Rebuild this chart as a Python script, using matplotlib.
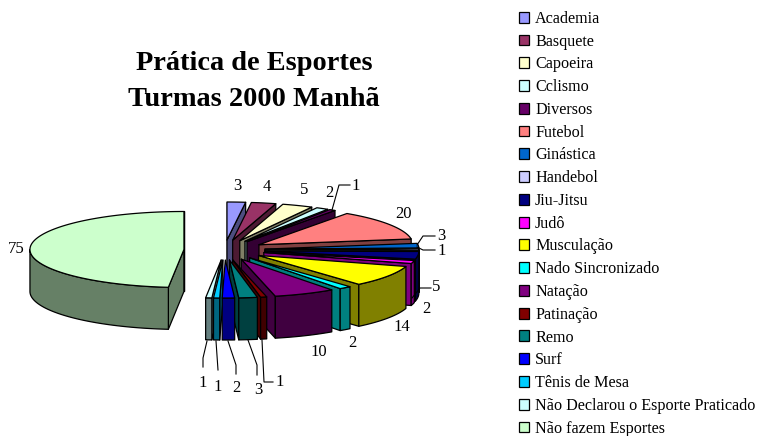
import numpy as np
import matplotlib
matplotlib.use("Agg")
import matplotlib.pyplot as plt
from matplotlib.patches import Polygon, Patch

categories = ["Academia", "Basquete", "Capoeira", "Cclismo", "Diversos", "Futebol",
              "Ginástica", "Handebol", "Jiu-Jitsu", "Judô", "Musculação",
              "Nado Sincronizado", "Natação", "Patinação", "Remo", "Surf",
              "Tênis de Mesa", "Não Declarou o Esporte Praticado", "Não fazem Esportes"]
values = [3, 4, 5, 2, 1, 20, 3, 1, 5, 2, 14, 2, 10, 1, 3, 2, 1, 1, 75]
colors = ["#9999FF", "#993366", "#FFFFCC", "#CCFFFF", "#660066", "#FF8080", "#0066CC",
          "#CCCCFF", "#000080", "#FF00FF", "#FFFF00", "#00FFFF", "#800080", "#800000",
          "#008080", "#0000FF", "#00CCFF", "#CCFFFF", "#CCFFCC"]

# label anchor positions (pixels), in the order of the values
label_pos = [(237, 186), (267, 187), (304, 190), (329, 193), (356, 186), (403, 214),
             (441, 236), (442, 251), (436, 287), (426, 309), (402, 327), (352, 343),
             (319, 352), (280, 382), (258, 390), (236, 388), (218, 387), (203, 383),
             (16, 249)]
leaders = [
    [(332, 210), (339, 185), (350, 185)],
    [(417, 245), (423, 236), (435, 236)],
    [(417, 247), (423, 250), (435, 250)],
    [(412, 298), (420, 288), (431, 288)],
    [(262, 340), (264, 382), (273, 382)],
    [(248, 340), (257, 365), (257, 375)],
    [(228, 341), (236, 365), (236, 374)],
    [(216, 341), (218, 370)],
    [(207, 341), (203, 358), (203, 367)],
]

W, H = 758, 436
CX, CY = 224.5, 250.0
RX, RY = 154.0, 38.0
DEPTH = 42.0
EXPLODE = 40.6
K = RY / RX
SERIF = "Liberation Serif"
LW = 0.9

fig = plt.figure(figsize=(W / 100, H / 100), dpi=100)
ax = fig.add_axes([0, 0, 1, 1])
ax.set_xlim(0, W)
ax.set_ylim(H, 0)
ax.axis("off")


def shade(hex_color):
    r, g, b = matplotlib.colors.to_rgb(hex_color)
    return (r * 0.5, g * 0.5, b * 0.5)


def rim(cx, cy, th):
    return np.column_stack([cx + RX * np.sin(th), cy - RY * np.cos(th)])


def face(pts, color, z):
    ax.add_patch(Polygon(pts, closed=True, facecolor=color, edgecolor="black",
                         linewidth=LW, joinstyle="round", zorder=z))


edges = np.concatenate([[0], np.cumsum(values)]) / np.sum(values) * 2 * np.pi
mids = (edges[:-1] + edges[1:]) / 2
order = np.argsort(-np.cos(mids))

for z, i in enumerate(order):
    a1, a2, m = edges[i], edges[i + 1], mids[i]
    cx = CX + EXPLODE * np.sin(m)
    cy = CY - EXPLODE * K * np.cos(m)
    base = 2 * z + 2
    dark = shade(colors[i])
    down = np.array([0, DEPTH])
    apex = np.array([cx, cy])
    # radial walls, visible only where they face the viewer
    for a, sign in ((a1, -1), (a2, 1)):
        if np.cos(a + sign * np.pi / 2) < 0.02:
            p = rim(cx, cy, np.array([a]))[0]
            face([apex, p, p + down, apex + down], dark, base)
    # outer wall: front part of the rim
    lo, hi = max(a1, np.pi / 2), min(a2, 3 * np.pi / 2)
    if hi > lo:
        arc = rim(cx, cy, np.linspace(lo, hi, 60))
        face(np.vstack([arc, (arc + down)[::-1]]), dark, base)
    # top surface
    top = rim(cx, cy, np.linspace(a1, a2, max(4, int((a2 - a1) * 60))))
    face(np.vstack([apex, top]), colors[i], base + 1)

for (x, y), v in zip(label_pos, values):
    ax.text(x, y, str(v), family=SERIF, fontsize=12, ha="center", va="center",
            color="black", zorder=100)
for line in leaders:
    xs, ys = zip(*line)
    ax.plot(xs, ys, color="black", lw=0.8, zorder=99)

ax.text(254, 81.5, "Prática de Esportes\nTurmas 2000 Manhã", family=SERIF, fontsize=20.4,
        fontweight="bold", ha="center", va="center", linespacing=1.54)

handles = [Patch(facecolor=c, edgecolor="black", linewidth=0.9) for c in colors]
ax.legend(handles, categories, loc="upper left", bbox_to_anchor=(514 / W, 1 - 6 / H),
          bbox_transform=fig.transFigure, frameon=False, borderpad=0.3, borderaxespad=0,
          prop={"family": SERIF, "size": 11.6}, labelspacing=0.42, handlelength=0.66,
          handleheight=0.66, handletextpad=0.35)

fig.savefig("out.png", dpi=100)
